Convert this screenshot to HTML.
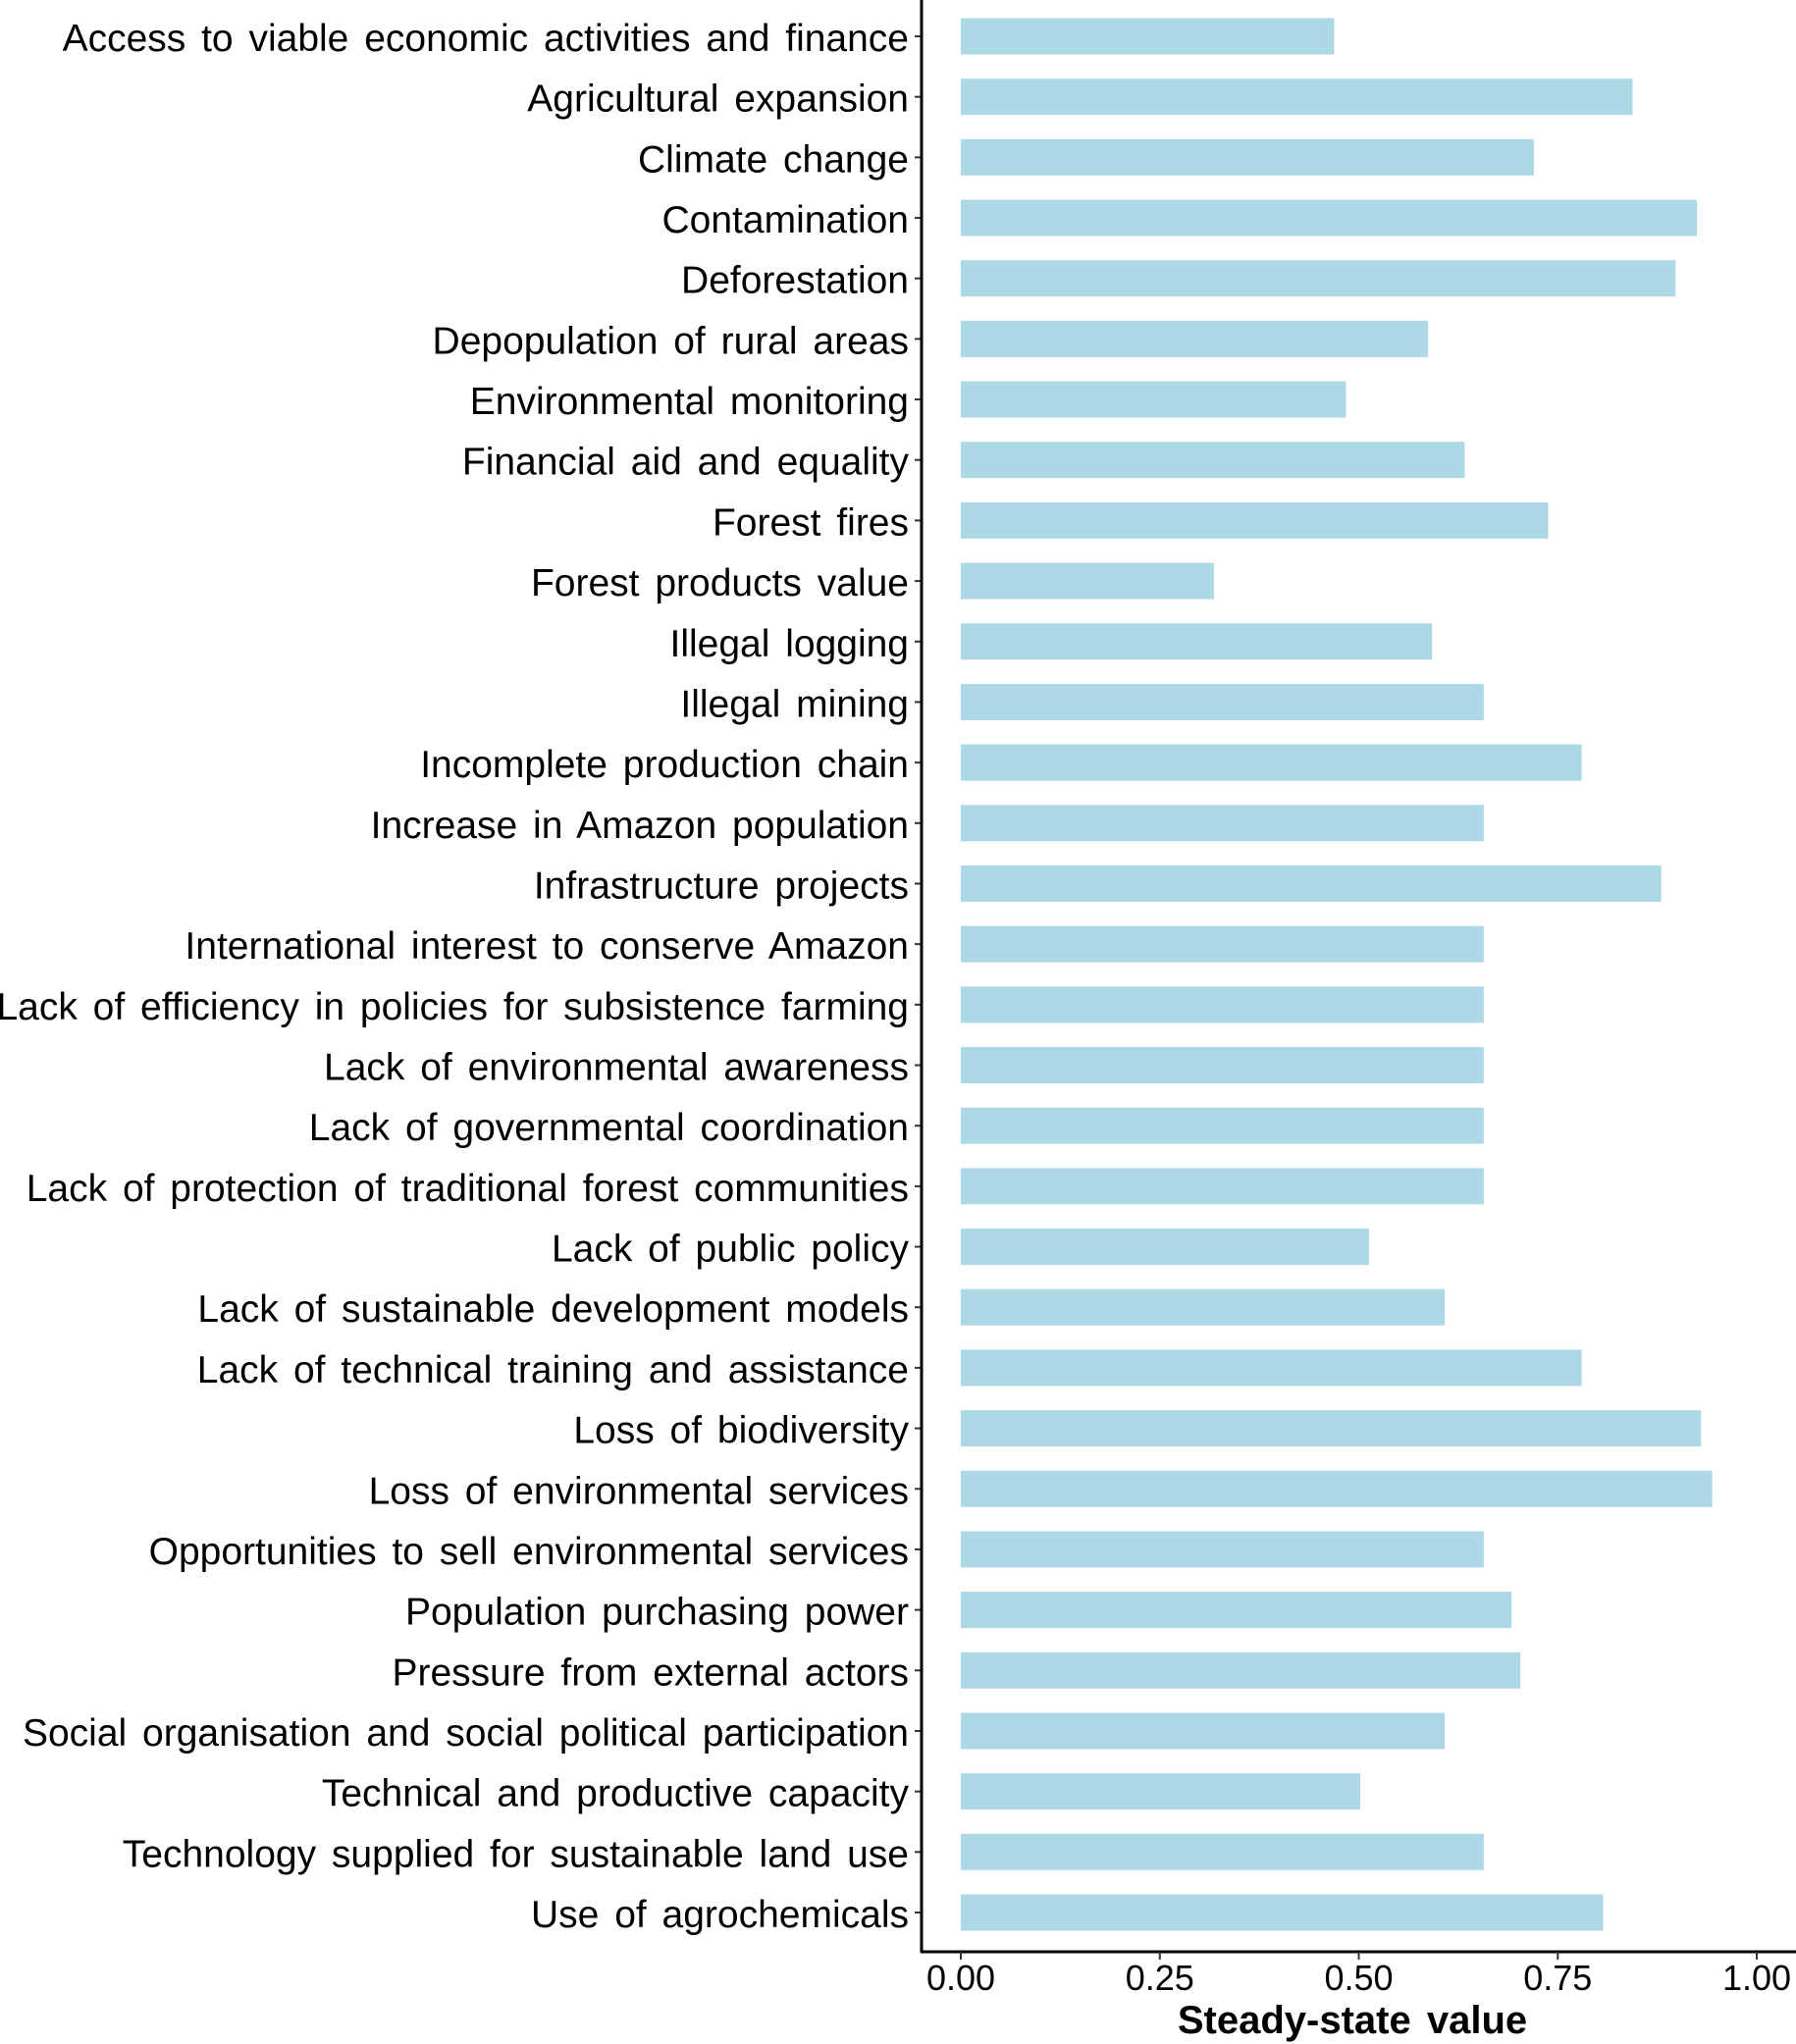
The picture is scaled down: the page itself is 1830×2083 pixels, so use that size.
<!DOCTYPE html>
<html><head><meta charset="utf-8"><style>
html,body{margin:0;padding:0;background:#fff}
svg{display:block;font-family:"Liberation Sans",Arial,sans-serif}
</style></head><body>
<svg id="chart" width="1830" height="2083" viewBox="0 0 1830 2083" xmlns="http://www.w3.org/2000/svg"></svg>
<script>
const categories = ["Access to viable economic activities and finance","Agricultural expansion","Climate change","Contamination","Deforestation","Depopulation of rural areas","Environmental monitoring ","Financial aid and equality","Forest fires","Forest products value","Illegal logging","Illegal mining","Incomplete production chain","Increase in Amazon population","Infrastructure projects","International interest to conserve Amazon","Lack of efficiency in policies for subsistence farming","Lack of environmental awareness","Lack of governmental coordination","Lack of protection of traditional forest communities","Lack of public policy ","Lack of sustainable development models","Lack of technical training and assistance","Loss of biodiversity","Loss of environmental services","Opportunities to sell environmental services","Population purchasing power","Pressure from external actors","Social organisation and social political participation","Technical and productive capacity","Technology supplied for sustainable land use","Use of agrochemicals"];
const values = [0.469,0.844,0.720,0.925,0.898,0.587,0.484,0.633,0.738,0.318,0.592,0.657,0.780,0.657,0.880,0.657,0.657,0.657,0.657,0.657,0.513,0.608,0.780,0.930,0.944,0.657,0.692,0.703,0.608,0.502,0.657,0.807];
const ticks = [0,0.25,0.5,0.75,1];
const tickLabels = ["0.00","0.25","0.50","0.75","1.00"];

const svg = document.getElementById('chart');
const NS = 'http://www.w3.org/2000/svg';
const X0 = 979, X1 = 1790, Y0 = 37, STEP = (1949-37)/31, BH = 37;
const xs = v => X0 + v*(X1-X0);
const ys = i => Y0 + i*STEP;
function mk(tag, attrs){const e=document.createElementNS(NS,tag);for(const k in attrs)e.setAttribute(k,attrs[k]);svg.appendChild(e);return e;}

categories.forEach((c,i)=>{
  const r = mk('rect',{x:xs(0),y:ys(i)-BH/2,width:xs(values[i])-xs(0),height:BH,fill:'#add8e6'});
  
  
  const t = mk('line',{x1:932,x2:939,y1:ys(i),y2:ys(i),stroke:'#333','stroke-width':2});
  
  
  const l = mk('text',{x:926,y:ys(i)+15,'text-anchor':'end','font-size':39,'word-spacing':5,fill:'#000','xml:space':'preserve'});
  l.textContent = c;
  
  
});
const ya = mk('line',{x1:939,x2:939,y1:0,y2:1990,stroke:'#000','stroke-width':3});


const xa = mk('line',{x1:938,x2:1830,y1:1989,y2:1989,stroke:'#000','stroke-width':3});


ticks.forEach((v,i)=>{
  const t = mk('line',{x1:xs(v),x2:xs(v),y1:1989,y2:1997,stroke:'#333','stroke-width':2});
  
  
  const l = mk('text',{x:xs(v),y:2028,'text-anchor':'middle','font-size':36,fill:'#000'});
  l.textContent = tickLabels[i];
  
  
});
const title = mk('text',{x:1378,y:2072,'text-anchor':'middle','font-size':40,'font-weight':'bold','word-spacing':5,fill:'#000'});
title.textContent = 'Steady-state value';


</script>
</body></html>
